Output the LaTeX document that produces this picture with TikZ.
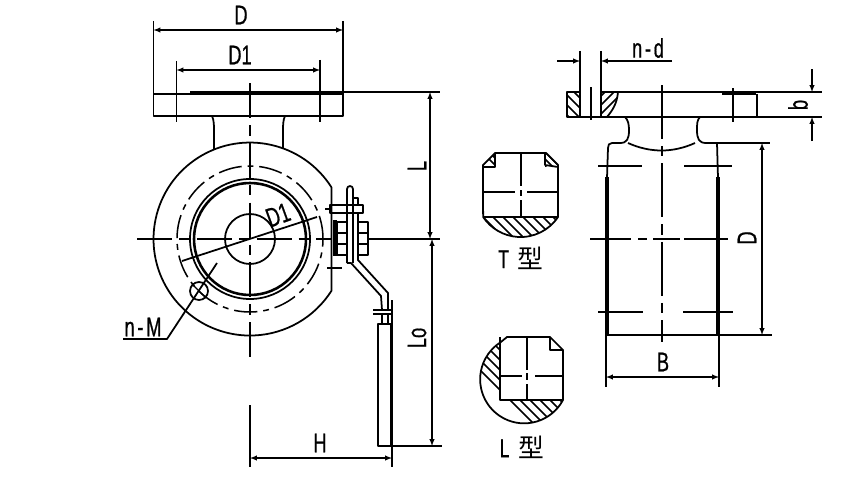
\documentclass[tikz,border=0pt]{standalone}
\usepackage{fontspec}
\setmainfont[FakeStretch=.68,FakeBold=.6]{Liberation Sans}
\newfontfamily\cjkfont{Noto Sans CJK SC}
\usetikzlibrary{arrows}
\tikzset{
	part/.style={line width=1.5pt, line join=round},
	heavy/.style={line width=2.8pt},
	thin part/.style={line width=1pt},
	dim line/.style={line width=1pt, latex-latex},
	dim tip/.style={line width=1pt, -latex},
	center line/.style={line width=1.1pt, dash pattern=on 30pt off 6pt on 9pt off 6pt},
	chain line/.style={line width=1.3pt, dash pattern=on 20pt off 5pt on 5pt off 5pt},
	hatch/.style={line width=1.4pt},
	dim label/.style={font=\fontsize{23}{23}\selectfont, inner sep=0pt},
	spaced label/.style={font=\fontsize{23}{23}\selectfont\addfontfeature{LetterSpace=10}, inner sep=0pt},
	side label/.style={dim label, rotate=90},
	type label/.style={font=\fontsize{22}{22}\selectfont, inner sep=0pt}
}
\begin{document}
\begin{tikzpicture}[x=.03cm, y=.03cm]
		\useasboundingbox (0,0) rectangle (850,-479);

		\draw[part] (190,-94) -- (153.5,-94) -- (153.5,-116) -- (343,-116) -- (343,-93);
		\draw[heavy] (190,-93) -- (343,-93);
		\draw[part] (153.5,-21) -- (153.5,-116) (343,-21) -- (343,-116);
		\draw[part] (176.5,-61) -- (176.5,-122) (320,-60) -- (320,-122);
		\draw[dim line] (153.5,-30) -- (343,-30);
		\draw[dim line] (176.5,-70) -- (320,-70);
		\draw[thin part] (343,-92) -- (440,-92);
		\draw[part] (212,-116) .. controls (214,-120) and (214,-126) .. (214,-130) -- (214,-149.5);
		\draw[part] (285,-116) .. controls (283,-120) and (283,-126) .. (283,-130) -- (283,-148);

		\draw[part] (331.4,-187.2) arc (32.5:327.5:96.5) -- (331.4,-187.2);
		\draw[chain line] (250,-239) circle (73);
		\draw[part] (250,-239) circle (60);
		\draw[line width=2.2pt] (250,-239) circle (56);
		\draw[part] (250,-239) circle (25);
		\draw[center line] (250,-83) -- (250,-358);
		\draw[part] (250,-405) -- (250,-467);
		\draw[center line] (137,-239) -- (331,-239);
		\draw[thin part] (368,-239) -- (440,-239);

		\draw[part] (317,-217) -- (182,-261);
		\draw[part] (199,-291) circle (9);
		\draw[part] (217,-263) -- (167,-339) -- (123,-339);
		\draw[thin part] (192,-284) -- (206,-298);

		\draw[part] (330,-205) rectangle (363,-213);
		\draw[thin part] (325,-209) -- (330,-209);
		\draw[thin part] (327,-268) -- (342,-268);
		\draw[part] (347,-263) -- (347,-189) arc (180:0:3) -- (353,-263);
		\draw[part] (353,-198) -- (358,-198) -- (358,-205);
		\draw[part] (337,-222) rectangle (347,-255);
		\draw[part] (358,-222) rectangle (368,-255);
		\draw[thin part] (337,-233) -- (347,-233) (337,-244) -- (347,-244) (358,-233) -- (368,-233) (358,-244) -- (368,-244);
		\draw[heavy] (335,-220) -- (335,-256);
		\draw[part] (358,-213) -- (358,-260) -- (388,-293) -- (388,-310);
		\draw[part] (347,-263) -- (351,-263) -- (381,-296) -- (382,-310);
		\draw[part] (373,-310) -- (393,-310) (373,-314) -- (393,-314);
		\draw[part] (382,-314) -- (382,-324) (388,-314) -- (388,-324);
		\draw[part] (378,-324) rectangle (391,-446);
		\draw[line width=2pt] (391,-324) -- (391,-446);
		\draw[thin part] (391,-446) -- (442,-446);
		\draw[part] (392,-300) -- (392,-467);
		\draw[dim line] (250,-458) -- (392,-458);
		\draw[dim line] (430,-92) -- (430,-239);
		\draw[dim line] (432,-239) -- (432,-446);

		\begin{scope}
		\clip (495,-153) -- (483,-165) -- (495,-167) -- cycle (546,-153) -- (558,-165) -- (545,-167) -- cycle;
		\foreach \i in {480,487,...,560}
			\draw[hatch] (\i,-150) -- (\i+20,-170);
		\end{scope}
		\begin{scope}
		\clip (558,-217) arc (-33.7:-146.3:45) -- cycle;
		\foreach \i in {470,480,...,560}
			\draw[hatch] (\i,-214) -- (\i+26,-240);
		\end{scope}
		\draw[part] (495,-153) -- (546,-153) -- (558,-165) -- (558,-217) arc (-33.7:-146.3:45) -- (483,-165) -- cycle;
		\draw[part] (495,-153) -- (495,-167) -- (483,-167);
		\draw[part] (545,-153) -- (545,-165) -- (558,-167);
		\draw[part] (483,-217) -- (558,-217);
		\draw[part] (483,-192) -- (515,-192) (527,-192) -- (558,-192);
		\draw[part] (521,-153) -- (521,-186) (521,-190) -- (521,-196) (521,-200) -- (521,-217);

		\begin{scope}
		\clip (563,-400) arc (-28:-238:44) -- (500,-337) -- (500,-400) -- cycle;
		\foreach \i in {440,450,...,570}
			\draw[hatch] (\i,-330) -- (\i+100,-430);
		\end{scope}
		\draw[part] (563,-400) arc (-28:-238:44) -- (507,-337) -- (550,-337) -- (563,-350) -- cycle;
		\draw[part] (500,-337) -- (500,-400) -- (563,-400);
		\draw[part] (550,-337) -- (550,-350) -- (563,-350);
		\draw[part] (500,-376) -- (522,-376) (535,-376) -- (563,-376);
		\draw[part] (527,-337) -- (527,-370) (527,-373) -- (527,-380) (527,-384) -- (527,-400);

		\begin{scope}
		\clip (567,-92) rectangle (580,-117);
		\foreach \i in {540,550,...,590}
			\draw[hatch] (\i,-88) -- (\i+32,-120);
		\end{scope}
		\begin{scope}
		\clip (601,-92) -- (618,-92) .. controls (617,-104) and (612,-111) .. (607,-117) -- (601,-117) -- cycle;
		\foreach \i in {600,609,...,645}
			\draw[hatch] (\i,-88) -- (\i-32,-120);
		\end{scope}
		\draw[part] (580,-92) -- (567,-92) -- (567,-117) -- (757,-117) -- (757,-94);
		\draw[part] (601,-92) -- (822,-92);
		\draw[part] (757,-117) -- (822,-117);
		\draw[heavy] (722,-93.5) -- (756,-93.5);
		\draw[part] (618,-92) .. controls (617,-104) and (612,-111) .. (607,-117);
		\draw[part] (580,-51) -- (580,-117) (601,-51) -- (601,-117);
		\draw[part] (591,-87) -- (591,-120);
		\draw[part] (733,-88) -- (733,-122);
		\draw[dim tip] (557,-61) -- (580,-61);
		\draw[dim tip] (672,-61) -- (601,-61);

		\draw[part] (625,-117) .. controls (628,-120) and (629,-124) .. (629,-130) .. controls (629,-139) and (627,-143) .. (620,-143) -- (612,-143) .. controls (609,-143) and (608,-145) .. (608,-148) -- (607,-178);
		\draw[part] (700,-117) .. controls (697,-120) and (697,-124) .. (697,-130) .. controls (697,-139) and (699,-143) .. (706,-143) -- (717,-143) -- (718,-178);
		\draw[thin part] (706,-143) -- (770,-143);
		\draw[part] (628,-143) .. controls (650,-153) and (673,-153) .. (695,-143);
		\draw[heavy] (607,-177) -- (607,-335);
		\draw[heavy] (718,-177) -- (718,-335);
		\draw[part] (607,-335) -- (718,-335);
		\draw[thin part] (718,-335) -- (772,-335);
		\draw[part] (606,-335) -- (606,-387) (719,-335) -- (719,-387);
		\draw[dim line] (606,-377) -- (719,-377);
		\draw[dim line] (762,-143) -- (762,-335);
		\draw[dim tip] (812,-69) -- (812,-92);
		\draw[dim tip] (812,-141) -- (812,-117);

		\draw[line width=1.1pt, dash pattern=on 46pt off 6pt on 9pt off 6pt] (662,-85) -- (662,-342);
		\draw[part] (598,-166) -- (642,-166) (684,-166) -- (732,-166);
		\draw[part] (590,-239) -- (631,-239) (638,-239) -- (647,-239) (653,-239) -- (680,-239) (684,-239) -- (728,-239);
		\draw[part] (598,-312) -- (643,-312) (683,-312) -- (733,-312);

		\node (Label D) at (241,-15) [dim label]{D};
		\node (Label D1) at (240,-55) [dim label]{D1};
		\node (Label Bolt Circle) at (278,-215) [dim label, rotate=20]{D1};
		\node (Label L) at (417,-166) [side label]{L};
		\node (Label Lo) at (417,-338) [side label]{Lo};
		\node (Label H) at (320,-443) [dim label]{H};
		\node (Label Holes) at (143,-327) [spaced label]{n-M};
		\node (Label Type T) at (521,-258) [type label]{T\hspace{.35em}{\cjkfont 型}};
		\node (Label Type L) at (522,-447) [type label]{L\hspace{.35em}{\cjkfont 型}};
		\node (Label Bore) at (648,-48) [spaced label]{n-d};
		\node (Label b) at (798,-105) [side label]{b};
		\node (Label Side D) at (747,-238) [side label]{D};
		\node (Label B) at (663,-362) [dim label]{B};
\end{tikzpicture}
\end{document}
